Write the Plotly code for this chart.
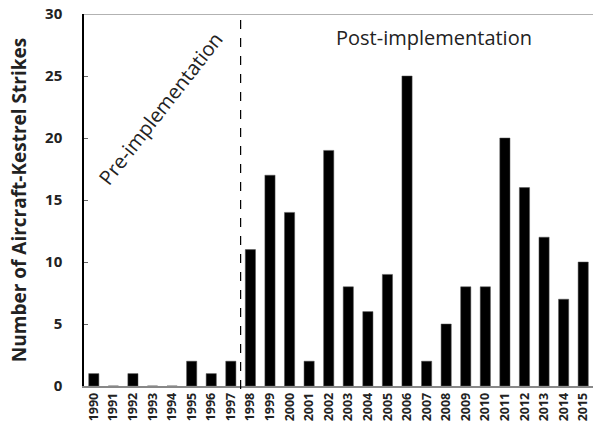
import plotly.graph_objects as go

years = [str(y) for y in range(1990, 2016)]
strikes = [1, 0, 1, 0, 0, 2, 1, 2, 11, 17, 14, 2, 19, 8, 6, 9, 25, 2, 5, 8, 8, 20, 16, 12, 7, 10]

fig = go.Figure()
fig.add_trace(go.Bar(x=years, y=strikes, marker=dict(color="black", line=dict(color="#555", width=0.5)),
                     width=0.52))

fig.add_shape(type="line", xref="x", yref="paper", x0=7.5, x1=7.5, y0=-0.008, y1=1,
              line=dict(color="black", width=1.2, dash="dash"))
fig.add_shape(type="line", xref="paper", yref="y", x0=0, x1=1, y0=30, y1=30,
              line=dict(color="#999", width=1.5))

fig.add_annotation(text="Pre-implementation", x=3.4, y=22.4, xref="x", yref="y", showarrow=False,
                   textangle=-52, font=dict(size=20, color="#222", family="Open Sans"))
fig.add_annotation(text="Post-implementation", x=17.4, y=28.1, xref="x", yref="y", showarrow=False,
                   font=dict(size=20, color="#222", family="Open Sans"))

fig.update_layout(
    width=593, height=431,
    margin=dict(l=84, r=0, t=14, b=45),
    paper_bgcolor="white", plot_bgcolor="white",
    showlegend=False,
    font=dict(family="Open Sans", color="#222"),
    xaxis=dict(type="category", showline=True, linecolor="#888", linewidth=1.5,
               tickangle=-90, tickfont=dict(size=12.5, family="Open Sans", weight="bold"),
               ticks="", range=[-0.5, 25.5], automargin=False),
    yaxis=dict(range=[0, 30], tickvals=[0, 5, 10, 15, 20, 25, 30], showgrid=False,
               showline=True, linecolor="black", linewidth=1.5, ticks="inside", ticklen=4,
               tickcolor="#666", zeroline=False, ticklabelstandoff=17, automargin=False,
               tickfont=dict(size=15, family="Open Sans", weight="bold"),
               title=dict(text="Number of Aircraft-Kestrel Strikes", standoff=13,
                          font=dict(size=19, family="Open Sans", weight="bold"))),
)

fig.write_html("out.html", config={"displayModeBar": False},
               post_script="document.body.style.margin='0';document.body.style.overflow='hidden';")
